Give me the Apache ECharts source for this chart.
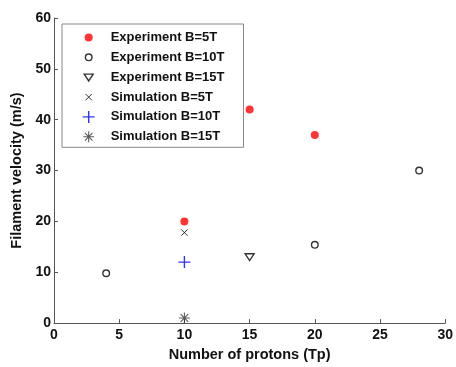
<!DOCTYPE html>
<html>
<head>
<meta charset="utf-8">
<script src="https://cdn.jsdelivr.net/npm/echarts@6/dist/echarts.min.js"></script>
<style>html,body{margin:0;padding:0;background:#fff;}#c{width:456px;height:367px;}</style>
</head>
<body>
<div id="c"></div>
<script>
// Data
var seriesNames = ['Experiment B=5T','Experiment B=10T','Experiment B=15T','Simulation B=5T','Simulation B=10T','Simulation B=15T'];
var expB5  = [[10, 20], [15, 42], [20, 37]];
var expB10 = [[4, 9.8], [20, 15.4], [28, 30]];
var expB15 = [[15, 13]];
var simB5  = [[10, 17.8]];
var simB10 = [[10, 12]];
var simB15 = [[10, 1]];
var xTicks = [0, 5, 10, 15, 20, 25, 30];
var yTicks = [0, 10, 20, 30, 40, 50, 60];

var BOX = 'M0,0M12,12';
var sym = {
  dot: 'path://' + BOX + 'M2,6A4,4,0,1,1,10,6A4,4,0,1,1,2,6Z',
  circ: 'path://' + BOX + 'M2.7,6A3.3,3.3,0,1,1,9.3,6A3.3,3.3,0,1,1,2.7,6Z',
  tri: 'path://' + BOX + 'M1.5,2.8L10.5,2.8L6,9.6Z',
  x: 'path://' + BOX + 'M2.8,2.8L9.2,9.2M9.2,2.8L2.8,9.2',
  plus: 'path://' + BOX + 'M0,6L12,6M6,0L6,12',
  star: 'path://' + BOX + 'M0.6,6L11.4,6M6,0.6L6,11.4M2.2,2.2L9.8,9.8M9.8,2.2L2.2,9.8'
};
var styles = [
  {color: '#ff0000', borderColor: '#ff0000', borderWidth: 0},
  {color: 'rgba(0,0,0,0)', borderColor: '#000', borderWidth: 1.4},
  {color: 'rgba(0,0,0,0)', borderColor: '#000', borderWidth: 1.4},
  {color: 'rgba(0,0,0,0)', borderColor: '#000', borderWidth: 1},
  {color: 'rgba(0,0,0,0)', borderColor: '#0000ff', borderWidth: 1.4},
  {color: 'rgba(0,0,0,0)', borderColor: '#333', borderWidth: 1.1}
];
var symbols = [sym.dot, sym.circ, sym.tri, sym.x, sym.plus, sym.star];
var datas = [expB5, expB10, expB15, simB5, simB10, simB15];

var chart = echarts.init(document.getElementById('c'), null, {renderer: 'canvas'});
var font = 'Liberation Sans';
var series = seriesNames.map(function (n, i) {
  return {
    name: n, type: 'scatter', data: datas[i], symbol: symbols[i], symbolSize: 12,
    itemStyle: styles[i], emphasis: {disabled: true}, animation: false
  };
});
chart.setOption({
  animation: false,
  backgroundColor: '#fff',
  grid: {left: 54, right: 6, top: 18, bottom: 38, containLabel: false},
  legend: {
    orient: 'vertical', left: 62, top: 24,
    padding: [7, 19, 4, 20],
    itemWidth: 34, itemHeight: 12, itemGap: 6.6,
    borderColor: '#888', borderWidth: 1,
    backgroundColor: '#fff',
    symbolKeepAspect: true,
    selectedMode: false,
    textStyle: {fontFamily: font, fontWeight: 'bold', fontSize: 13, color: '#111'},
    data: seriesNames.map(function (n, i) {
      return {name: n, icon: symbols[i], itemStyle: styles[i]};
    })
  },
  xAxis: {
    type: 'value', min: xTicks[0], max: xTicks[xTicks.length - 1], interval: 5,
    name: 'Number of protons (Tp)', nameLocation: 'middle', nameGap: 22,
    nameTextStyle: {fontFamily: font, fontWeight: 'bold', fontSize: 14.5, color: '#111'},
    axisLine: {lineStyle: {color: '#555', width: 1}},
    axisTick: {inside: true, length: 4, lineStyle: {color: '#555'}},
    axisLabel: {margin: 5, fontFamily: font, fontWeight: 'bold', fontSize: 14, color: '#111'},
    splitLine: {show: false}
  },
  yAxis: {
    type: 'value', min: yTicks[0], max: yTicks[yTicks.length - 1], interval: 10,
    name: 'Filament velocity (m/s)', nameLocation: 'middle', nameGap: 22, nameRotate: 90,
    nameTextStyle: {fontFamily: font, fontWeight: 'bold', fontSize: 14.5, color: '#111'},
    axisLine: {show: true, lineStyle: {color: '#555', width: 1}},
    axisTick: {show: true, inside: true, length: 4, lineStyle: {color: '#555'}},
    axisLabel: {margin: 3, fontFamily: font, fontWeight: 'bold', fontSize: 14, color: '#111'},
    splitLine: {show: false}
  },
  series: series
});
</script>
</body>
</html>
